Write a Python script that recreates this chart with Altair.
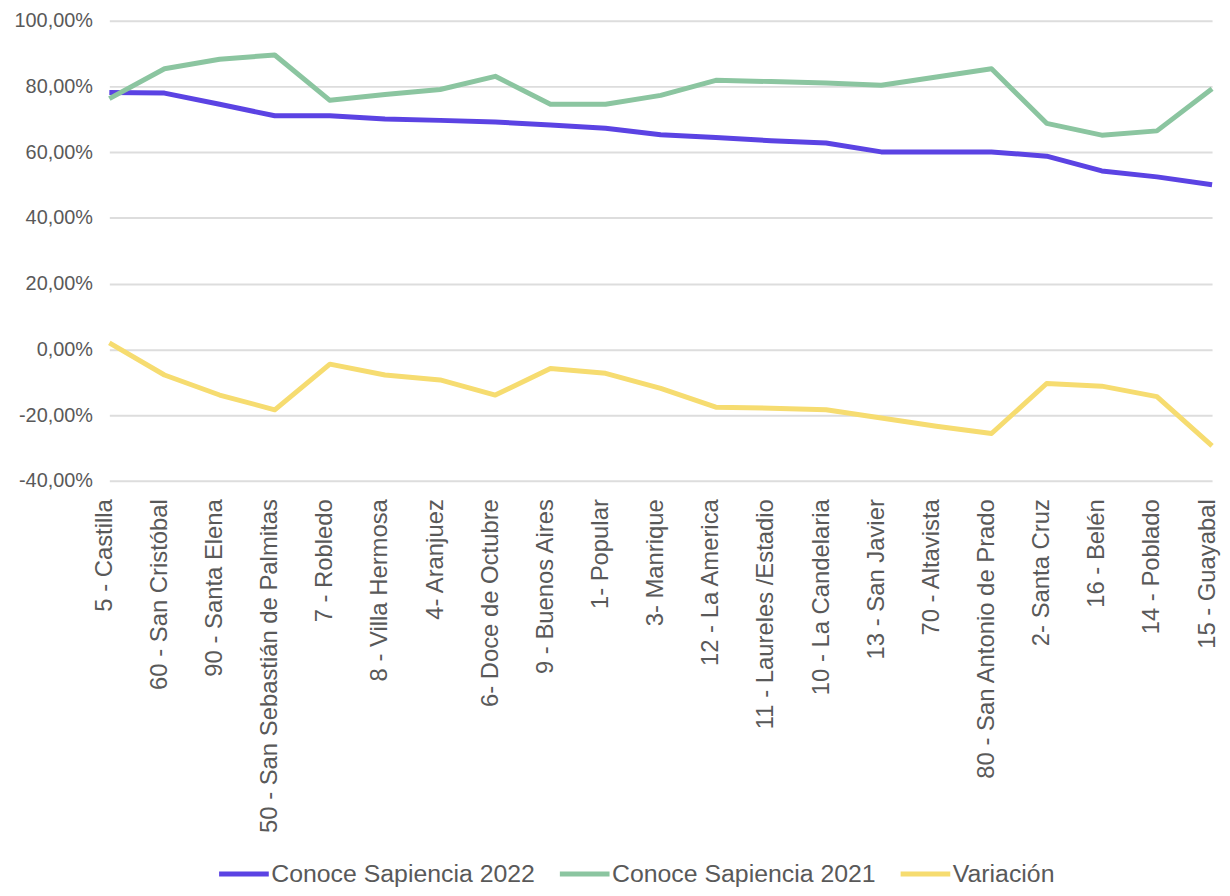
import altair as alt
import pandas as pd

categories = [
    "5 - Castilla", "60 - San Cristóbal", "90 - Santa Elena",
    "50 - San Sebastián de Palmitas", "7 - Robledo", "8 - Villa Hermosa",
    "4- Aranjuez", "6- Doce de Octubre", "9 - Buenos Aires", "1- Popular",
    "3- Manrique", "12 - La America", "11 - Laureles /Estadio",
    "10 - La Candelaria", "13 - San Javier", "70 - Altavista",
    "80 - San Antonio de Prado", "2- Santa Cruz", "16 - Belén",
    "14 - Poblado", "15 - Guayabal",
]
sapiencia_2022 = [78.2, 78.0, 74.6, 71.1, 71.1, 70.1, 69.7, 69.2, 68.3, 67.3,
                  65.3, 64.5, 63.5, 62.8, 60.1, 60.1, 60.1, 58.8, 54.3, 52.5, 50.1]
sapiencia_2021 = [76.3, 85.4, 88.3, 89.6, 75.8, 77.6, 79.1, 83.1, 74.6, 74.6,
                  77.3, 81.9, 81.5, 81.1, 80.4, 82.9, 85.4, 68.8, 65.2, 66.5, 79.3]
variacion = [2.0, -7.8, -13.9, -18.4, -4.5, -7.8, -9.3, -13.9, -5.8, -7.3,
             -11.9, -17.6, -17.9, -18.4, -20.9, -23.4, -25.6, -10.4, -11.2, -14.4, -29.4]

series_names = ["Conoce Sapiencia 2022", "Conoce Sapiencia 2021", "Variación"]
series_colors = ["#5B43E3", "#8BC5A0", "#F6DC70"]
y_ticks = [-0.4, -0.2, 0.0, 0.2, 0.4, 0.6, 0.8, 1.0]

rows = []
for name, vals in zip(series_names, [sapiencia_2022, sapiencia_2021, variacion]):
    for c, v in zip(categories, vals):
        rows.append({"Comuna": c, "Serie": name, "Valor": v / 100.0})
df = pd.DataFrame(rows)

FONT = "Liberation Sans"
GREY = "#595959"

chart = alt.Chart(df).mark_line(strokeWidth=5, strokeJoin="round").encode(
    x=alt.X(
        "Comuna:N",
        sort=categories,
        scale=alt.Scale(type="point", padding=0),
        axis=alt.Axis(
            title=None, labelAngle=270, labelFontSize=24, labelFont=FONT,
            labelColor=GREY, ticks=False, tickSize=0, domain=False,
            labelPadding=18, labelLimit=500, grid=False, tickOffset=-5,
        ),
    ),
    y=alt.Y(
        "Valor:Q",
        scale=alt.Scale(domain=[-0.4, 1.0], nice=False, zero=False),
        axis=alt.Axis(
            title=None, values=y_ticks,
            labelExpr="replace(replace(format(datum.value, '.2%'), '.', ','), '\u2212', '-')",
            labelFontSize=20, labelFont=FONT, labelColor=GREY,
            ticks=False, tickSize=0, domain=False, labelPadding=17,
            grid=True, gridColor="#dddddd", gridWidth=2,
        ),
    ),
    color=alt.Color(
        "Serie:N",
        sort=series_names,
        scale=alt.Scale(domain=series_names, range=series_colors),
        legend=alt.Legend(
            title=None, orient="none", legendX=108, legendY=831,
            direction="horizontal", symbolType="stroke", symbolSize=2500,
            symbolStrokeWidth=5, labelFontSize=25, labelFont=FONT,
            labelColor=GREY, columnPadding=14, labelOffset=0, labelLimit=0,
        ),
    ),
).properties(
    width=1110,
    height=463,
    padding={"left": 102, "top": 10, "right": 10, "bottom": 407},
    autosize=alt.AutoSizeParams(type="none"),
    background="white",
).configure_view(stroke=None)

chart.save("out.html", embed_options={"renderer": "svg", "actions": False})
